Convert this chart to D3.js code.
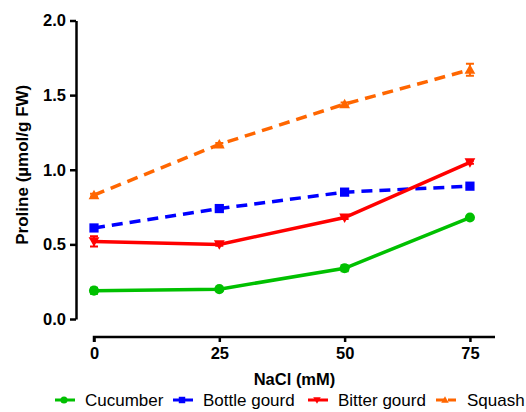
<!DOCTYPE html>
<html>
<head>
<meta charset="utf-8">
<script src="https://cdn.jsdelivr.net/npm/d3@7"></script>
<style>
  body { margin: 0; background: #fff; }
  text { font-family: "Liberation Sans", Arial, sans-serif; }
</style>
</head>
<body>
<svg id="chart" width="526" height="412"></svg>
<script>
// NaCl doses
var doses = [0, 25, 50, 75];
var yTicks = [0, 0.5, 1.0, 1.5, 2.0];

// proline means and errors
var cucumber = [0.19, 0.20, 0.34, 0.68];
var cucumberErr = [0.02, 0.01, 0.02, 0.01];
var bottleGourd = [0.61, 0.74, 0.85, 0.89];
var bottleGourdErr = [0.02, 0.01, 0.01, 0.01];
var bitterGourd = [0.52, 0.50, 0.68, 1.05];
var bitterGourdErr = [0.035, 0.01, 0.01, 0.01];
var squash = [0.83, 1.17, 1.44, 1.67];
var squashErr = [0.01, 0.01, 0.01, 0.04];

var seriesNames = ["Cucumber", "Bottle gourd", "Bitter gourd", "Squash"];

var series = [
    {name: seriesNames[0], values: cucumber, err: cucumberErr, color: "#00c000", shape: "circle", dash: null},
    {name: seriesNames[1], values: bottleGourd, err: bottleGourdErr, color: "#0000ff", shape: "square", dash: "11,7"},
    {name: seriesNames[2], values: bitterGourd, err: bitterGourdErr, color: "#ff0000", shape: "down", dash: null},
    {name: seriesNames[3], values: squash, err: squashErr, color: "#ff6600", shape: "up", dash: "11,7"}
];

var svg = d3.select("#chart");

var x = d3.scaleLinear().domain([0, 80]).range([94, 495]);
var y = d3.scaleLinear().domain([0, 2]).range([319, 20.5]);

// y axis
var yAxis = svg.append("g")
    .attr("transform", "translate(76,0)")
    .call(d3.axisLeft(y).tickValues(yTicks).tickFormat(d3.format(".1f")).tickSize(6).tickSizeOuter(0));
yAxis.select(".domain").attr("stroke-width", 2.5);
yAxis.selectAll(".tick line").attr("stroke-width", 2.5);
yAxis.selectAll("text")
    .attr("font-size", 16.5).attr("font-weight", "bold").attr("fill", "#000").attr("dx", "-1");

// x axis, offset below
var xAxis = svg.append("g")
    .attr("transform", "translate(0,337)")
    .call(d3.axisBottom(x).tickValues(doses).tickSize(5).tickSizeOuter(0));
xAxis.select(".domain").attr("stroke-width", 2.5)
    .attr("d", "M" + x(0) + ",5V0H" + x(80));
xAxis.selectAll(".tick line").attr("stroke-width", 2.5);
xAxis.selectAll("text")
    .attr("font-size", 16.5).attr("font-weight", "bold").attr("fill", "#000").attr("dy", "0.85em");

svg.append("text")
    .attr("x", x(40)).attr("y", 385)
    .attr("text-anchor", "middle")
    .attr("font-size", 16.5).attr("font-weight", "bold")
    .text("NaCl (mM)");

svg.append("text")
    .attr("transform", "translate(28," + (y(1) - 5) + ") rotate(-90)")
    .attr("text-anchor", "middle")
    .attr("font-size", 17).attr("font-weight", "bold")
    .text("Proline (µmol/g FW)");

function symbolPath(shape, size) {
    var s = size;
    if (shape === "circle") return d3.symbol(d3.symbolCircle, s * s * 0.8)();
    if (shape === "square") return d3.symbol(d3.symbolSquare, s * s * 0.85)();
    var h = s * 0.9;
    if (shape === "up") return "M0," + (-h * 0.6) + "L" + (h * 0.6) + "," + (h * 0.45) + "L" + (-h * 0.6) + "," + (h * 0.45) + "Z";
    return "M0," + (h * 0.6) + "L" + (h * 0.6) + "," + (-h * 0.45) + "L" + (-h * 0.6) + "," + (-h * 0.45) + "Z";
}

var line = d3.line()
    .x(function(d, i) { return x(doses[i]); })
    .y(function(d) { return y(d); });

series.forEach(function(s) {
    var g = svg.append("g");

    // error bars
    s.values.forEach(function(v, i) {
        var e = s.err[i];
        g.append("path")
            .attr("d", "M" + x(doses[i]) + "," + y(v - e) + "V" + y(v + e) +
                "M" + (x(doses[i]) - 4) + "," + y(v + e) + "H" + (x(doses[i]) + 4) +
                "M" + (x(doses[i]) - 4) + "," + y(v - e) + "H" + (x(doses[i]) + 4))
            .attr("stroke", s.color).attr("stroke-width", 2).attr("fill", "none");
    });

    g.append("path")
        .datum(s.values)
        .attr("d", line)
        .attr("fill", "none")
        .attr("stroke", s.color)
        .attr("stroke-width", 3.5)
        .attr("stroke-dasharray", s.dash);

    g.selectAll(".pt")
        .data(s.values)
        .enter().append("path")
        .attr("transform", function(d, i) { return "translate(" + x(doses[i]) + "," + y(d) + ")"; })
        .attr("d", symbolPath(s.shape, 10))
        .attr("fill", s.color);
});

// legend
var legendX = [55, 173, 308, 436];
var legend = svg.append("g");
series.forEach(function(s, i) {
    var lx = legendX[i];
    var ly = 400;
    legend.append("line")
        .attr("x1", lx).attr("x2", lx + 20).attr("y1", ly).attr("y2", ly)
        .attr("stroke", s.color).attr("stroke-width", 3)
        .attr("stroke-dasharray", s.dash ? "8,4" : null);
    legend.append("path")
        .attr("transform", "translate(" + (lx + 9) + "," + ly + ")")
        .attr("d", symbolPath(s.shape, 7))
        .attr("fill", s.color);
    legend.append("text")
        .attr("x", lx + (i === 3 ? 31 : 30)).attr("y", ly + 6)
        .attr("font-size", 17)
        .text(s.name);
});
</script>
</body>
</html>
